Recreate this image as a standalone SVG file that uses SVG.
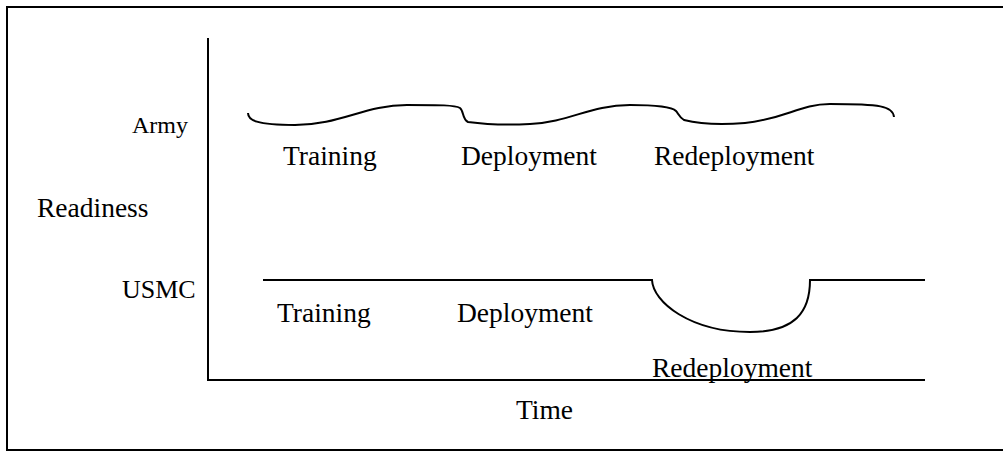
<svg xmlns="http://www.w3.org/2000/svg" width="1003" height="451" viewBox="0 0 1003 451">
<style>
.t{font-family:"Liberation Serif","Times New Roman",serif;font-size:27.5px;fill:#000}
.ln{fill:none;stroke:#000;stroke-width:2}
</style>
<rect x="0" y="0" width="1003" height="451" fill="#fff"/>
<g id="frame"><path class="ln" d="M1003,7 H7 V450 H1003" stroke-width="2.5"/></g>
<g id="axes">
<line class="ln" x1="208" y1="38" x2="208" y2="381"/>
<line class="ln" x1="207" y1="380" x2="925" y2="380"/>
</g>
<g id="labels">
<text class="t" x="188" y="133" text-anchor="end" style="font-size:24px">Army</text>
<text class="t" x="37" y="217">Readiness</text>
<text class="t" x="122" y="298" style="font-size:26px">USMC</text>
<text class="t" x="516" y="419">Time</text>
</g>
<g id="army">
<path class="ln" d="M248,113 C248,120 256,125 295,125 C340,125 365,105 407,105 C440,105 455,105 460,108 C464,111 462,119 468,122 C490,125 510,125 530,124 C570,122 590,105 630,105 C660,105 672,107 676,111 C678,113 679,117 684,120 C700,124 720,125 745,123 C785,119 800,104 830,104 C880,104 893,106 894,117"/>
<text class="t" x="283" y="165">Training</text>
<text class="t" x="461" y="165">Deployment</text>
<text class="t" x="654" y="165">Redeployment</text>
</g>
<g id="usmc">
<path class="ln" d="M263,280 H652 C653,302 690,332 750,332 C795,332 810,312 810,280 H925"/>
<text class="t" x="277" y="322">Training</text>
<text class="t" x="457" y="322">Deployment</text>
<text class="t" x="652" y="377">Redeployment</text>
</g>
</svg>
